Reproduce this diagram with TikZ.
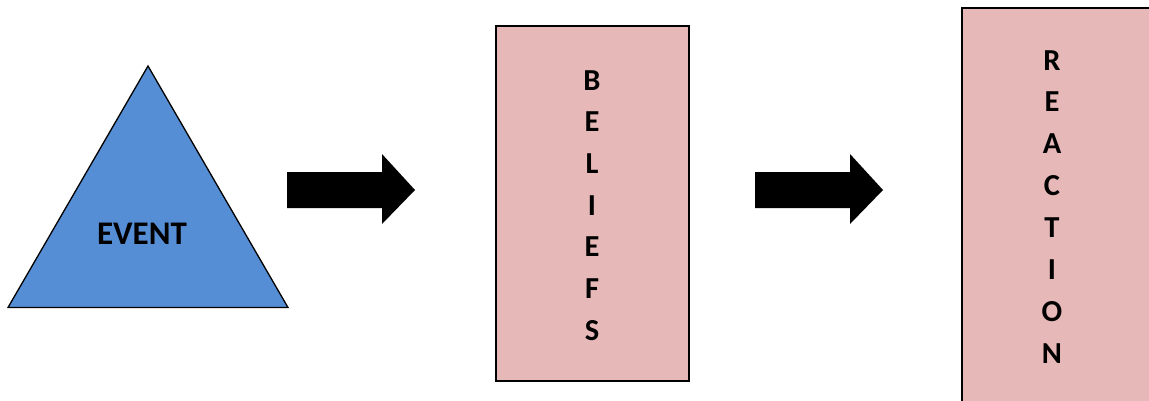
\documentclass[tikz,border=0pt]{standalone}
\usepackage{fontspec}
\setmainfont{Carlito}
\definecolor{evblue}{RGB}{85,142,213}
\definecolor{boxpink}{RGB}{230,184,183}
\tikzset{
  lettr/.style={font=\fontsize{30.5}{34}\selectfont\bfseries, anchor=base, inner sep=0pt, text=black},
  tallbox/.style={draw=black, line width=2pt, fill=boxpink},
  blockarrow/.style={fill=black, draw=none}
}
\begin{document}
\begin{tikzpicture}[x=1pt,y=-1pt]
\useasboundingbox (0,0) rectangle (1149,400);
\clip (0,0) rectangle (1149,400);
% triangle
\coordinate (apex) at (148,66);
\coordinate (bl) at (8,307.5);
\coordinate (br) at (288,307.5);
\draw[fill=evblue, line width=1.3pt, line join=miter] (apex) -- (br) -- (bl) -- cycle;
\node[font=\fontsize{33}{36}\selectfont\bfseries, anchor=base, inner sep=0pt] (event) at (142,244) {EVENT};
% arrow 1
\fill[blockarrow] (287,172) -- (382,172) -- (382,154) -- (415,190) -- (382,224) -- (382,208) -- (287,208) -- cycle;
% beliefs box
\node[tallbox, minimum width=193pt, minimum height=355pt, inner sep=0pt] (beliefs) at (592,203.5) {};
\foreach \l [count=\i from 0] in {B,E,L,I,E,F,S} {
  \node[lettr] (b\i) at (592,{90+41.7*\i}) {\l};
}
% arrow 2
\fill[blockarrow] (755,172) -- (850,172) -- (850,154) -- (883,190) -- (850,224) -- (850,208) -- (755,208) -- cycle;
% reaction box (runs off the right and bottom edges)
\node[fill=boxpink, draw=none, minimum width=260pt, minimum height=440pt, inner sep=0pt, anchor=north west] (reaction) at (962,7.5) {};
\draw[line width=2pt] (reaction.south west) -- (reaction.north west) -- (reaction.north east);
\foreach \l [count=\i from 0] in {R,E,A,C,T,I,O,N} {
  \node[lettr] (r\i) at (1052,{70+41.9*\i}) {\l};
}
\end{tikzpicture}
\end{document}
